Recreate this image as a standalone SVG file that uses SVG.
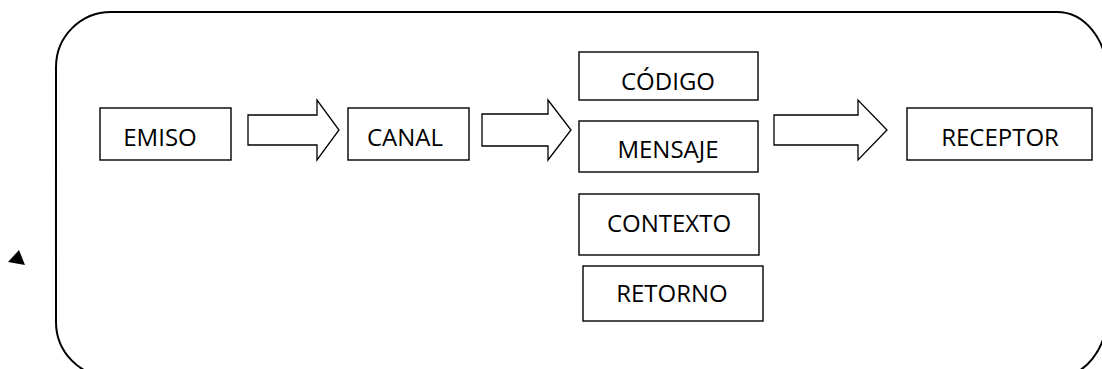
<svg xmlns="http://www.w3.org/2000/svg" width="1102" height="369" viewBox="0 0 1102 369">
  <style>
    .box { fill: #ffffff; stroke: #000000; stroke-width: 1.4; }
    .arrow { fill: #ffffff; stroke: #000000; stroke-width: 1.3; stroke-linejoin: miter; }
    .frame { fill: none; stroke: #000000; stroke-width: 2; }
    .label { font-family: "Open Sans", "Liberation Sans", sans-serif; font-size: 24px; fill: #000000; text-anchor: middle; }
  </style>

  <!-- outer rounded frame, running past the right and bottom edges -->
  <path class="frame" d="M56,67 A55,55 0 0 1 111,12 L1057,12 A50,62 0 0 1 1107,74 L1107,315 A50,62 0 0 1 1057,377 L111,377 A55,55 0 0 1 56,322 Z"/>

  <!-- small filled marker to the left of the frame -->
  <polygon points="8,262 19,250 25,265" fill="#000000"/>

  <g id="connectors">
    <polygon class="arrow" points="248,115 317,115 317,100 339,130 317,160 317,145 248,145"/>
    <polygon class="arrow" points="482,114 548,114 548,100 571,130 548,160 548,146 482,146"/>
    <polygon class="arrow" points="774,115 858,115 858,100 887,130 858,160 858,145 774,145"/>
  </g>

  <g id="emiso">
    <rect class="box" x="100" y="108" width="131" height="52"/>
    <text class="label" x="160" y="146">EMISO</text>
  </g>
  <g id="canal">
    <rect class="box" x="348" y="108" width="121" height="52"/>
    <text class="label" x="405" y="146">CANAL</text>
  </g>
  <g id="codigo">
    <rect class="box" x="579" y="52" width="179" height="48"/>
    <text class="label" x="668" y="90">CÓDIGO</text>
  </g>
  <g id="mensaje">
    <rect class="box" x="579" y="121" width="179" height="51"/>
    <text class="label" x="668" y="158">MENSAJE</text>
  </g>
  <g id="contexto">
    <rect class="box" x="579" y="194" width="180" height="61"/>
    <text class="label" x="669" y="232">CONTEXTO</text>
  </g>
  <g id="retorno">
    <rect class="box" x="583" y="266" width="180" height="55"/>
    <text class="label" x="672" y="302">RETORNO</text>
  </g>
  <g id="receptor">
    <rect class="box" x="907" y="108" width="185" height="52"/>
    <text class="label" x="1000" y="146">RECEPTOR</text>
  </g>
</svg>
